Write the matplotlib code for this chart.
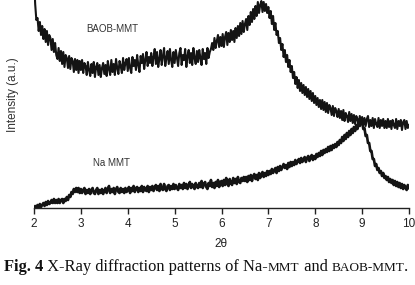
import numpy as np
import matplotlib
matplotlib.use("Agg")
import matplotlib.pyplot as plt

# 2-theta sampling grid (deg), step 0.025
two_theta = np.linspace(2.0, 10.0, 321)

baob_mmt = [
    230, 204, 188, 190, 177, 186, 173, 182, 169, 179, 166, 177, 163, 173, 170, 158, 169, 156, 165, 153,
    149, 160, 147, 157, 144, 156, 141, 153, 150, 140, 152, 139, 150, 147, 136, 149, 138, 148, 135, 147,
    138, 148, 135, 145, 142, 133, 146, 138, 132, 144, 135, 146, 131, 141, 145, 133, 143, 131, 140, 145,
    134, 143, 132, 147, 139, 133, 148, 136, 144, 133, 149, 140, 134, 147, 142, 135, 150, 138, 145, 149,
    137, 150, 140, 135, 151, 142, 148, 138, 153, 143, 136, 152, 145, 154, 139, 148, 156, 142, 151, 145,
    155, 142, 151, 159, 144, 156, 141, 149, 158, 143, 152, 160, 142, 150, 157, 144, 159, 148, 141, 156,
    145, 158, 150, 142, 155, 160, 143, 153, 148, 159, 141, 152, 158, 145, 155, 143, 160, 150, 144, 157,
    146, 158, 150, 143, 159, 149, 155, 144, 160, 150, 156, 159, 165, 158, 170, 160, 167, 173, 161, 171,
    162, 174, 161, 171, 176, 163, 175, 166, 178, 168, 177, 166, 180, 170, 182, 172, 185, 174, 187, 176,
    184, 189, 178, 192, 183, 196, 186, 199, 189, 202, 192, 206, 195, 203, 207, 196, 206, 197, 204, 195,
    201, 190, 197, 184, 192, 178, 185, 173, 177, 165, 170, 158, 164, 151, 158, 146, 153, 141, 148, 136,
    142, 130, 136, 124, 131, 120, 128, 117, 125, 115, 123, 113, 121, 111, 119, 109, 117, 107, 115, 105,
    112, 103, 110, 101, 108, 99, 108, 98, 106, 96, 105, 95, 103, 100, 93, 102, 92, 100, 97, 91,
    99, 90, 97, 88, 98, 87, 95, 92, 86, 96, 87, 94, 85, 93, 84, 92, 89, 83, 92, 84,
    91, 83, 90, 82, 89, 92, 81, 88, 82, 90, 80, 89, 84, 81, 90, 80, 88, 82, 89, 80,
    87, 80, 89, 81, 87, 79, 88, 83, 80, 89, 79, 87, 82, 88, 78, 86, 88, 79, 87, 80,
    83,
]

na_mmt = [
    0, 2, 0, 3, 1, 4, 1, 3, 5, 2, 6, 3, 7, 4, 5, 8, 5, 9, 5, 8,
    5, 9, 5, 8, 9, 5, 9, 7, 11, 8, 13, 11, 16, 14, 19, 16, 20, 16, 20, 15,
    19, 15, 18, 20, 14, 18, 15, 19, 14, 18, 20, 15, 14, 18, 20, 14, 18, 15, 19, 14,
    17, 20, 15, 19, 22, 15, 19, 16, 20, 14, 19, 21, 16, 15, 20, 16, 19, 15, 20, 16,
    18, 21, 15, 20, 17, 22, 16, 20, 21, 16, 20, 17, 22, 16, 21, 18, 17, 22, 16, 21,
    18, 22, 17, 21, 23, 18, 22, 17, 24, 19, 18, 24, 19, 17, 22, 23, 18, 22, 19, 24,
    19, 23, 20, 18, 24, 20, 23, 19, 25, 20, 24, 19, 23, 26, 20, 24, 21, 19, 25, 21,
    20, 25, 21, 27, 20, 24, 26, 21, 19, 25, 22, 28, 21, 25, 20, 26, 22, 28, 21, 26,
    27, 22, 28, 23, 30, 24, 22, 29, 25, 23, 30, 25, 29, 24, 31, 26, 25, 30, 27, 31,
    27, 31, 26, 32, 28, 33, 27, 32, 34, 29, 33, 28, 35, 30, 34, 36, 31, 35, 32, 37,
    33, 37, 34, 39, 35, 38, 40, 35, 41, 37, 42, 38, 41, 44, 40, 43, 39, 45, 41, 46,
    42, 46, 43, 48, 44, 47, 49, 45, 50, 46, 49, 51, 46, 50, 52, 47, 51, 53, 48, 52,
    49, 54, 51, 55, 52, 57, 53, 58, 55, 59, 56, 61, 57, 62, 58, 63, 60, 64, 61, 66,
    63, 68, 65, 71, 67, 73, 69, 75, 71, 77, 73, 79, 75, 81, 77, 83, 79, 86, 82, 88,
    86, 79, 80, 72, 73, 65, 65, 57, 57, 49, 49, 42, 44, 38, 40, 35, 37, 32, 35, 30,
    32, 28, 31, 26, 29, 25, 28, 23, 27, 22, 26, 21, 25, 20, 24, 19, 23, 20, 18, 23,
    20,
]

x_ticks = [2, 3, 4, 5, 6, 7, 8, 9, 10]

W, H = 415, 285
fig = plt.figure(figsize=(W / 100, H / 100), dpi=100)
ax = fig.add_axes([34 / W, (H - 208) / H, 375 / W, 208 / H])

line_col = "#141414"
ax.plot(two_theta, baob_mmt, color=line_col, lw=1.5)
ax.plot(two_theta, na_mmt, color=line_col, lw=1.9)

ax.set_xlim(2, 10)
ax.set_ylim(0, 208)
for s in ["top", "right", "left"]:
    ax.spines[s].set_visible(False)
ax.spines["bottom"].set_color("#222222")
ax.spines["bottom"].set_linewidth(1.0)
ax.set_yticks([])
ax.set_xticks(x_ticks)
ax.set_xticklabels([str(t) for t in x_ticks], fontsize=8.5,
                   family="Liberation Sans", color="#222222")
ax.tick_params(axis="x", direction="out", length=4, width=1.0,
               color="#222222", pad=3)
ax.patch.set_alpha(0)

fig.text(221 / W, 1 - 244 / H, "2θ", ha="center", va="center",
         fontsize=8.5, family="Liberation Sans", color="#222222")
fig.text(13 / W, 1 - 95 / H, "Intensity (a.u.)", ha="center", va="center",
         rotation=90, fontsize=8.5, family="Liberation Sans", color="#333333")

fig.text(112 / W, 1 - 29 / H, "BAOB-MMT", ha="center", va="center",
         fontsize=7, family="Liberation Sans", color="#333333")
fig.text(111 / W, 1 - 163 / H, "Na MMT", ha="center", va="center",
         fontsize=7, family="Liberation Sans", color="#333333")

# Caption with simulated small caps
pieces = [
    ("Fig. 4", 11.9, "bold"),
    (" X-Ray diffraction patterns of Na-", 11.9, "normal"),
    ("MMT", 9.5, "normal"),
    (" and ", 11.9, "normal"),
    ("BAOB-MMT", 9.5, "normal"),
    (".", 11.9, "normal"),
]
fig.canvas.draw()
renderer = fig.canvas.get_renderer()
x_px = 4.0
y_base = H - 271
for txt, fs, fw in pieces:
    t = fig.text(x_px / W, y_base / H, txt, ha="left", va="baseline",
                 fontsize=fs, fontweight=fw, family="Liberation Serif",
                 color="#111111")
    bb = t.get_window_extent(renderer=renderer)
    x_px += bb.width

fig.savefig("out.png", dpi=100)
